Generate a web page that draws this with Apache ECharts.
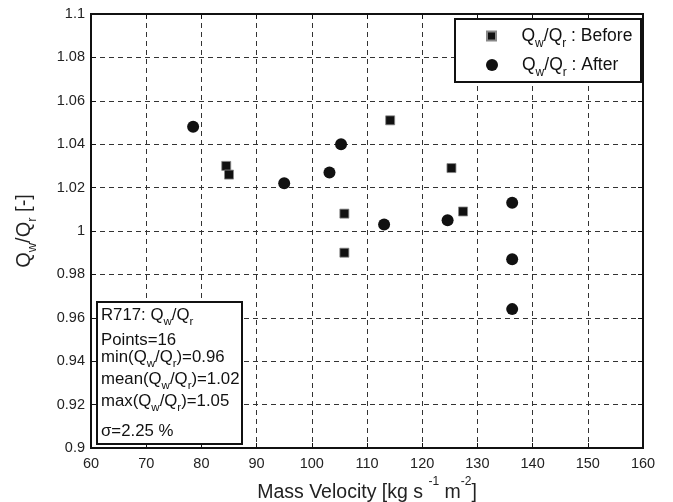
<!DOCTYPE html>
<html>
<head>
<meta charset="utf-8">
<script src="https://cdn.jsdelivr.net/npm/echarts@6/dist/echarts.min.js"></script>
<style>
  html, body { margin: 0; padding: 0; background: #fff; }
  #chart { width: 673px; height: 502px; }
</style>
</head>
<body>
<div id="chart"></div>
<script>
// Axis ticks
const xTicks = [60, 70, 80, 90, 100, 110, 120, 130, 140, 150, 160];
const yTicks = [0.9, 0.92, 0.94, 0.96, 0.98, 1.0, 1.02, 1.04, 1.06, 1.08, 1.1];

// Heat-flow ratio Qw/Qr versus mass velocity, R717
const beforeX = [84.5, 85.0, 105.9, 105.9, 114.2, 125.3, 127.4];
const beforeY = [1.030, 1.026, 1.008, 0.990, 1.051, 1.029, 1.009];
const afterX = [78.5, 95.0, 103.2, 105.3, 113.1, 124.6, 136.3, 136.3, 136.3];
const afterY = [1.048, 1.022, 1.027, 1.040, 1.003, 1.005, 1.013, 0.987, 0.964];

const fluidName = 'R717';
const sigmaPercent = 2.25;

const FONT = '"Liberation Sans", Arial, Helvetica, sans-serif';
const INK = '#111';

const pairs = (xs, ys) => xs.map((x, i) => [x, ys[i]]);
const allY = beforeY.concat(afterY);
const minY = Math.min(...allY);
const maxY = Math.max(...allY);
const meanY = allY.reduce((a, b) => a + b, 0) / allY.length;

const boxRich = {
  sub: { fontSize: 11.5, fontFamily: FONT, padding: [13, 0, 0, 0], fill: INK, color: INK }
};
const legendRich = {
  sub: { fontSize: 12, fontFamily: FONT, padding: [16, 0, 0, 0], color: INK }
};
const QR = 'Q{sub|w}/Q{sub|r}';
const fmtTick = v => String(parseFloat(v.toFixed(2)));

const chart = echarts.init(document.getElementById('chart'), null, { renderer: 'canvas' });

const boxLines = [
  [fluidName + ': ' + QR, 315.5],
  ['Points=' + allY.length, 340.5],
  ['min(' + QR + ')=' + minY.toFixed(2), 357.5],
  ['mean(' + QR + ')=' + meanY.toFixed(2), 379],
  ['max(' + QR + ')=' + maxY.toFixed(2), 401.5],
  ['\u03c3=' + sigmaPercent.toFixed(2) + ' %', 431.5]
];

const axisCommon = {
  type: 'value',
  axisLine: { show: true, lineStyle: { color: INK, width: 2 } },
  axisTick: { show: true, inside: true, length: 5, lineStyle: { color: INK, width: 1 } },
  splitLine: { show: true, lineStyle: { color: '#333', width: 1, type: [5, 4] } }
};

const legendCommon = {
  orient: 'vertical',
  left: 486,
  padding: 0,
  itemWidth: 50,
  formatter: name => QR + ' : ' + name,
  textStyle: { fontSize: 17.5, fontFamily: FONT, color: INK, rich: legendRich },
  selectedMode: false
};

chart.setOption({
  animation: false,
  backgroundColor: '#fff',
  grid: {
    left: 91, right: 30, top: 14, bottom: 54,
    outerBoundsMode: 'none', containLabel: false,
    show: true, borderColor: INK, borderWidth: 2, backgroundColor: '#fff'
  },
  xAxis: [
    Object.assign({}, axisCommon, {
      min: xTicks[0], max: xTicks[xTicks.length - 1], interval: xTicks[1] - xTicks[0],
      axisLabel: { fontSize: 14.5, fontFamily: FONT, color: '#222', margin: 8 },
      name: 'Mass Velocity [kg s {sup|-1} m{sup|-2}]',
      nameLocation: 'middle', nameGap: 23,
      nameTextStyle: { fontSize: 19.5, fontFamily: FONT, color: '#222',
        rich: { sup: { fontSize: 12, fontFamily: FONT, padding: [0, 0, 22, 0], color: '#222' } } }
    }),
    Object.assign({}, axisCommon, {
      position: 'top',
      min: xTicks[0], max: xTicks[xTicks.length - 1], interval: xTicks[1] - xTicks[0],
      axisLabel: { show: false }, splitLine: { show: false }
    })
  ],
  yAxis: [
    Object.assign({}, axisCommon, {
      min: yTicks[0], max: yTicks[yTicks.length - 1], interval: 0.02,
      axisLabel: { fontSize: 14.5, fontFamily: FONT, color: '#222', margin: 6, formatter: fmtTick },
      name: 'Q{sub|w}/Q{sub|r} [-]',
      nameLocation: 'middle', nameGap: 52,
      nameTextStyle: { fontSize: 20, fontFamily: FONT, color: '#222',
        rich: { sub: { fontSize: 13, fontFamily: FONT, padding: [17, 0, 0, 0], color: '#222' } } }
    }),
    Object.assign({}, axisCommon, {
      position: 'right',
      min: yTicks[0], max: yTicks[yTicks.length - 1], interval: 0.02,
      axisLabel: { show: false }, splitLine: { show: false }
    })
  ],
  legend: [
    Object.assign({}, legendCommon, {
      top: 27, itemHeight: 9, icon: 'path://M0,0L1,0L1,1L0,1Z',
      data: ['Before']
    }),
    Object.assign({}, legendCommon, {
      top: 56, itemHeight: 12, icon: 'circle',
      data: ['After']
    })
  ],
  series: [
    {
      name: 'Before', type: 'scatter', symbol: 'rect', symbolSize: 9,
      itemStyle: { color: INK, borderColor: '#888', borderWidth: 0.8, opacity: 1 },
      data: pairs(beforeX, beforeY), z: 3
    },
    {
      name: 'After', type: 'scatter', symbol: 'circle', symbolSize: 12,
      itemStyle: { color: INK, opacity: 1 },
      data: pairs(afterX, afterY), z: 3
    }
  ],
  graphic: [
    // legend frame
    { type: 'rect', z: 3, shape: { x: 455, y: 19, width: 186, height: 63 },
      style: { fill: '#fff', stroke: INK, lineWidth: 2 } },
    // statistics frame
    { type: 'rect', z: 3, shape: { x: 97, y: 302, width: 145, height: 142 },
      style: { fill: '#fff', stroke: INK, lineWidth: 2 } }
  ].concat(boxLines.map(([t, y]) => ({
    type: 'text', z: 5, x: 101, y: y,
    style: { text: t, fontSize: 16.8, fontFamily: FONT, fill: INK, verticalAlign: 'middle', align: 'left', rich: boxRich }
  })))
});
</script>
</body>
</html>
